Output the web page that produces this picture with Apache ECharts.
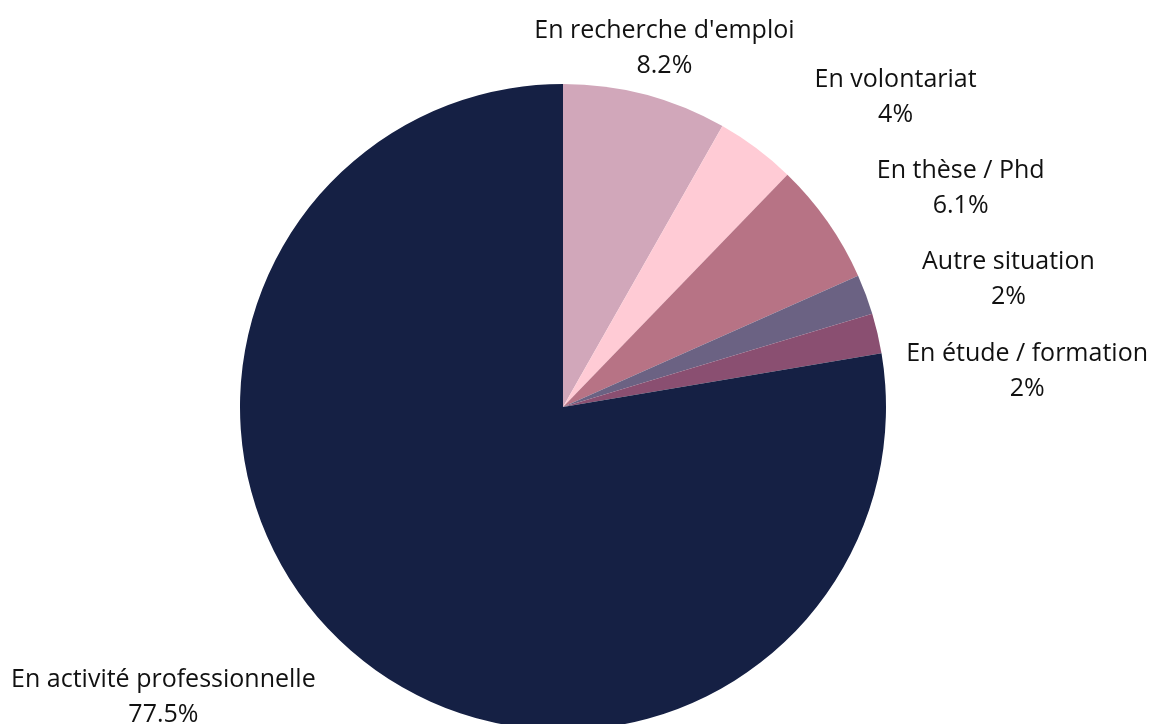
<!DOCTYPE html>
<meta charset='utf-8'>
<title>situation</title>
<style>
body {
    margin: 0;
}
#echart {
    height: 100vh;
    width: 100vw;
}
</style>
<div id='echart'></div>
<script src='https://cdn.jsdelivr.net/npm/echarts@6.0.0/dist/echarts.min.js'></script>
<script>
let names = ["En recherche d'emploi", 'En volontariat', 'En thèse / Phd', 'Autre situation', 'En étude / formation', 'En activité professionnelle']
let values = [8.2, 4, 6.1, 2, 2, 77.5]
let colors = ['#d1a7ba', '#ffcbd5', '#b77385', '#6b6283', '#8a4f71', '#152044']

let CENTER = [563, 407]
let RADIUS = 323
let GAP = 30
let PAD = 30
let EDGE = 5
let DY = 8
let total = values.reduce((a, b) => a + b, 0)
let echart = echarts.init(document.querySelector('#echart'))
let placed = []

// labels pushed out along the slice middle, kept inside the canvas, nudged when they overlap
function place(params) {
    let i = params.dataIndex
    if (i === 0) placed = []
    let before = values.slice(0, i).reduce((a, b) => a + b, 0)
    let angle = (before + values[i] / 2) / total * 2 * Math.PI
    let vx = Math.sin(angle), vy = -Math.cos(angle)
    let w = params.labelRect.width, h = params.labelRect.height
    let vs = 1 / Math.max(Math.abs(vx), Math.abs(vy))
    // near the top or bottom the label sits centred over its slice, on the sides it sits beside it
    let side = Math.min(1, Math.max(0, (Math.abs(vx) * vs - 0.25) * 2))
    let x = CENTER[0] + vx * (RADIUS + GAP + PAD) + Math.sign(vx) * w / 2 * side
    let y = CENTER[1] + vy * (RADIUS + GAP) + h / 2 * vy * vs
    let W = echart.getWidth(), H = echart.getHeight()
    let clamp = () => {
        x = Math.min(Math.max(x, EDGE + w / 2), W - EDGE - w / 2)
        y = Math.min(Math.max(y, EDGE + h / 2), H - h / 2)
    }
    clamp()
    for (let box of placed) {
        let hit = () => x - w / 2 < box.x2 && x + w / 2 > box.x1 && y - h / 2 < box.y2 && y + h / 2 > box.y1
        if (!hit()) continue
        if (vx > 0) {
            x = box.x2 + 20 + w / 2
            clamp()
        }
        if (hit()) y = box.y2 + 22 + h / 2
    }
    placed.push({x1: x - w / 2, x2: x + w / 2, y1: y - h / 2, y2: y + h / 2})
    return {x, y: y + DY, align: 'center', verticalAlign: 'middle'}
}

let option = {
    animation: false,
    color: colors,
    series: [{
        type: 'pie',
        center: CENTER,
        radius: RADIUS,
        startAngle: 90,
        clockwise: true,
        silent: true,
        data: names.map((name, i) => ({name, value: values[i]})),
        label: {
            show: true,
            position: 'outside',
            formatter: '{b}\n{c}%',
            fontFamily: 'Open Sans',
            fontSize: 25,
            lineHeight: 35,
            color: '#111',
            overflow: 'none',
        },
        labelLine: {show: false},
        labelLayout: place,
    }],
}
echart.setOption(option)
addEventListener('resize', function (event) {echart.resize()})
</script>
